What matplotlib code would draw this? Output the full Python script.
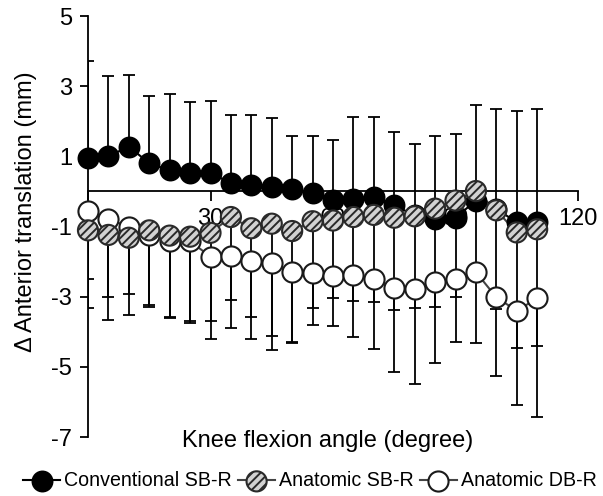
import numpy as np
import matplotlib
matplotlib.use("Agg")
import matplotlib.pyplot as plt
from matplotlib.legend_handler import HandlerTuple

plt.rcParams['font.family'] = ['Liberation Sans', 'DejaVu Sans']
plt.rcParams['hatch.color'] = '#5a5a5a'
plt.rcParams['hatch.linewidth'] = 1.4

# knee flexion angle (degree)
angle = np.arange(0, 115, 5)

# mean anterior translation (mm)
conv_sb = [0.95, 1.0, 1.28, 0.8, 0.6, 0.52, 0.52, 0.24, 0.17, 0.14, 0.08, -0.05,
           -0.24, -0.21, -0.16, -0.4, -0.68, -0.78, -0.75, -0.26, -0.5, -0.88, -0.88]
anat_sb = [-1.11, -1.24, -1.32, -1.11, -1.26, -1.29, -1.18, -0.73, -1.05, -0.92, -1.13, -0.85,
           -0.83, -0.73, -0.67, -0.75, -0.71, -0.49, -0.26, 0.01, -0.54, -1.17, -1.08]
anat_db = [-0.55, -0.8, -1.0, -1.25, -1.4, -1.42, -1.86, -1.83, -1.97, -2.04, -2.3, -2.33,
           -2.42, -2.37, -2.51, -2.75, -2.78, -2.59, -2.5, -2.3, -3.02, -3.4, -3.05]

# standard deviations (only one side is shown per series)
conv_sd = [2.76, 2.29, 2.04, 1.92, 2.19, 2.03, 2.06, 1.95, 2.01, 1.94, 1.49, 1.62,
           1.70, 2.33, 2.28, 2.08, 2.04, 2.36, 2.40, 2.72, 2.84, 3.17, 3.24]
sb_sd = [1.40, 1.78, 1.60, 2.14, 2.32, 2.41, 2.52, 2.36, 2.54, 3.21, 3.15, 2.47,
         2.21, 2.38, 2.47, 2.63, 2.60, 2.80, 2.76, 2.41, 2.81, 3.30, 3.34]
db_sd = [2.78, 2.87, 2.51, 2.05, 2.22, 2.33, 2.35, 2.07, 2.24, 2.47, 2.03, 1.48,
         1.43, 1.77, 1.98, 2.41, 2.71, 2.30, 1.79, 2.01, 2.24, 2.69, 3.37]

labels = ['Conventional SB-R', 'Anatomic SB-R', 'Anatomic DB-R']
xticks = [0, 30, 60, 90, 120]
yticks = [5, 3, 1, -1, -3, -5, -7]

fig = plt.figure(figsize=(6.03, 4.96), dpi=100)
ax = fig.add_axes([88 / 603, 1 - 437 / 496, 490 / 603, 421 / 496])

zeros = np.zeros(len(angle))
eb = dict(fmt='none', ecolor='black', elinewidth=1.3, capsize=4, capthick=1.3, zorder=2)
ax.errorbar(angle, conv_sb, yerr=[zeros, conv_sd], **eb)
ax.errorbar(angle, anat_sb, yerr=[sb_sd, zeros], **eb)
ax.errorbar(angle, anat_db, yerr=[db_sd, zeros], **eb)

l1, = ax.plot(angle, conv_sb, color='black', lw=1.5, zorder=2.2)
l2, = ax.plot(angle, anat_sb, color='#444444', lw=1.5, zorder=2.2)
l3, = ax.plot(angle, anat_db, color='#444444', lw=1.5, zorder=2.2)

ms = 210
s1 = ax.scatter(angle, conv_sb, s=ms, c='black', edgecolors='black', linewidths=1.3, zorder=3, clip_on=False)
s3 = ax.scatter(angle, anat_db, s=ms, c='white', edgecolors='#1a1a1a', linewidths=1.5, zorder=4, clip_on=False)
s2 = ax.scatter(angle, anat_sb, s=ms, c='#d2d2d2', edgecolors='#2a2a2a', linewidths=1.5,
                hatch='////', zorder=5, clip_on=False)

ax.set_xlim(0, 120)
ax.set_ylim(-7, 5)
ax.spines['top'].set_visible(False)
ax.spines['right'].set_visible(False)
ax.spines['bottom'].set_position(('data', 0))
for sp in ('left', 'bottom'):
    ax.spines[sp].set_linewidth(1.3)
    ax.spines[sp].set_zorder(1.9)

ax.set_xticks(xticks)
ax.set_yticks(yticks)
ax.set_yticklabels([str(v) for v in yticks])
ax.tick_params(axis='x', direction='out', length=7, width=1.3, pad=5, labelsize=17)
ax.tick_params(axis='y', direction='out', length=6, width=1.3, pad=5.5, labelsize=17)

ax.set_xlabel('Knee flexion angle (degree)', fontsize=17)
ax.xaxis.set_label_coords(0.49, 0.016)
ax.set_ylabel('Δ Anterior translation (mm)', fontsize=17)
ax.yaxis.set_label_coords(-0.105, 0.535)

fig.legend([(l1, s1), (l2, s2), (l3, s3)], labels,
           handler_map={tuple: HandlerTuple(ndivide=1)},
           loc='center', bbox_to_anchor=(310 / 603, 1 - 481 / 496), ncol=3, frameon=False,
           fontsize=14.1, handlelength=1.9, handletextpad=0.2, columnspacing=0.3,
           borderaxespad=0, borderpad=0)

fig.savefig('out.png', dpi=100)
